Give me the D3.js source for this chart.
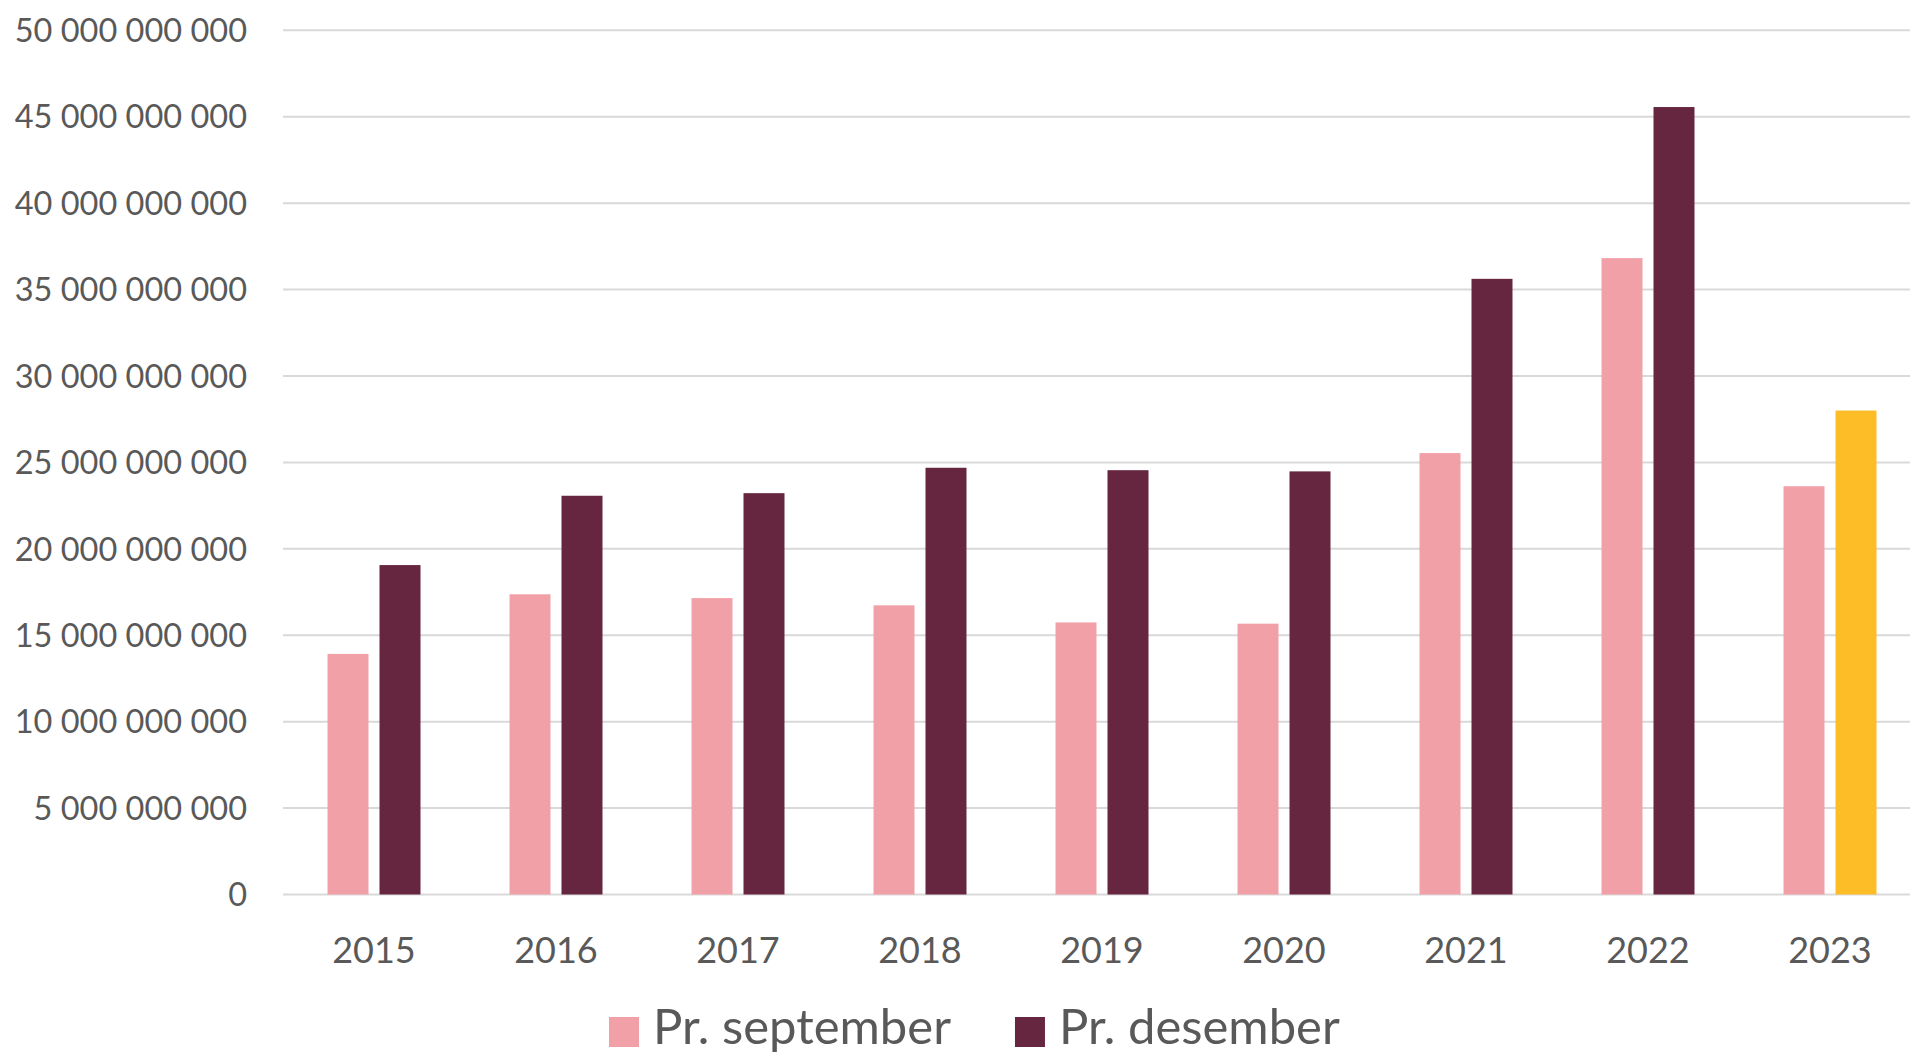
<!DOCTYPE html>
<html>
<head>
<meta charset="utf-8">
<script src="https://cdn.jsdelivr.net/npm/d3@7"></script>
<style>
  body { margin: 0; background: #fff; }
  svg { display: block; font-family: Lato, "Open Sans", sans-serif; }
</style>
</head>
<body>
<svg id="chart"></svg>
<script>
const years = ["2015", "2016", "2017", "2018", "2019", "2020", "2021", "2022", "2023"];
const seriesNames = ["Pr. september", "Pr. desember"];
const september = [13.92, 17.37, 17.15, 16.73, 15.74, 15.67, 25.54, 36.82, 23.62]; // mrd
const desember = [19.06, 23.07, 23.22, 24.69, 24.55, 24.48, 35.62, 45.56, 28.0];
const yTicks = [0, 5, 10, 15, 20, 25, 30, 35, 40, 45, 50];
const colors = ["#f2a0a8", "#662640"];
const highlight = "#fcbd27"; // 2023 desember

const width = 1910, height = 1052;
const margin = { top: 30, right: -11, bottom: 158, left: 283 };

const svg = d3.select("#chart").attr("width", width).attr("height", height);

const y = d3.scaleLinear()
  .domain([0, 50e9])
  .range([height - margin.bottom + 0.5, margin.top + 0.3]);

const x0 = d3.scaleBand()
  .domain(years)
  .range([margin.left, width - margin.right]);

const x1 = d3.scaleBand()
  .domain(seriesNames)
  .range([0, x0.bandwidth()])
  .paddingInner(0.2115)
  .paddingOuter(0.856);

const fmt = (v) => d3.format(",")(v).replace(/,/g, " ");

// gridlines
svg.append("g")
  .selectAll("line")
  .data(yTicks)
  .enter()
  .append("line")
  .attr("x1", margin.left)
  .attr("x2", width)
  .attr("y1", (d) => y(d * 1e9))
  .attr("y2", (d) => y(d * 1e9))
  .style("stroke", "#d9d9d9")
  .style("stroke-width", 2);

// y labels
svg.append("g")
  .selectAll("text")
  .data(yTicks)
  .enter()
  .append("text")
  .attr("x", 247)
  .attr("y", (d) => y(d * 1e9))
  .attr("dy", "0.36em")
  .attr("text-anchor", "end")
  .text((d) => fmt(d * 1e9))
  .style("fill", "#595959")
  .style("font-size", "32.5px");

// bars
const rows = years.map((yr, i) => ({
  year: yr,
  values: [
    { key: seriesNames[0], v: september[i] * 1e9, c: colors[0] },
    { key: seriesNames[1], v: desember[i] * 1e9, c: yr === "2023" ? highlight : colors[1] },
  ],
}));

const groups = svg.append("g")
  .selectAll("g")
  .data(rows)
  .enter()
  .append("g")
  .attr("transform", (d) => "translate(" + x0(d.year) + ",0)");

groups.selectAll("rect")
  .data((d) => d.values)
  .enter()
  .append("rect")
  .attr("x", (d) => x1(d.key))
  .attr("width", x1.bandwidth())
  .attr("y", (d) => y(d.v))
  .attr("height", (d) => y(0) - y(d.v))
  .style("fill", (d) => d.c);

// x labels
svg.append("g")
  .selectAll("text")
  .data(years)
  .enter()
  .append("text")
  .attr("x", (d) => x0(d) + x0.bandwidth() / 2)
  .attr("y", 963)
  .attr("text-anchor", "middle")
  .text((d) => d)
  .style("fill", "#595959")
  .style("font-size", "36px");

// legend
const legend = svg.append("g");
let lx = 609;
seriesNames.forEach((name, i) => {
  legend.append("rect")
    .attr("x", lx)
    .attr("y", 1017)
    .attr("width", 30)
    .attr("height", 30)
    .style("fill", colors[i]);
  const t = legend.append("text")
    .attr("x", lx + 44)
    .attr("y", 1044)
    .text(name)
    .style("fill", "#595959")
    .style("font-size", "49px");
  lx = lx + 44 + t.node().getComputedTextLength() + 64;
});
</script>
</body>
</html>
